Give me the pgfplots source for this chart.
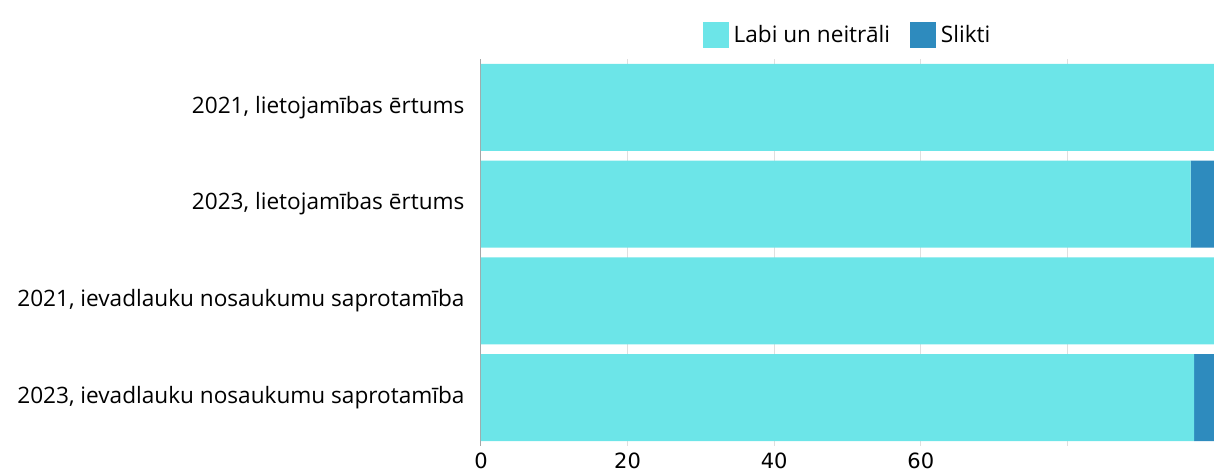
\documentclass[border=0pt]{standalone}
\usepackage{pgfplots}
\pgfplotsset{compat=1.18}
\usepackage{fontspec}
\setmainfont{Open Sans}
\newfontfamily\tickfont{DejaVu Sans}
\definecolor{light}{RGB}{108,229,232}
\definecolor{dark}{RGB}{46,139,190}
\begin{document}
\begin{tikzpicture}
\begin{axis}[
  name=ax,
  scale only axis,
  width=733pt, height=387pt,
  xbar stacked,
  bar width=0.9,
  xmin=0, xmax=100,
  ymin=-0.5, ymax=3.5,
  y dir=reverse,
  ytick={0,1,2,3},
  yticklabels={{2021, lietojamības ērtums},{2023, lietojamības ērtums},{2021, ievadlauku nosaukumu saprotamība},{2023, ievadlauku nosaukumu saprotamība}},
  yticklabel style={font=\fontsize{22.6}{26}\selectfont, xshift=-13pt},
  xtick={0,20,40,60,80,100},
  xticklabels={0,20,40,60,,},
  xticklabel style={font=\tickfont\fontsize{21}{24}\selectfont, yshift=-3pt},
  /pgf/number format/assume math mode=true,
  major tick length=0pt,
  xmajorgrids,
  grid style={gray!25, line width=1pt},
  separate axis lines,
  axis x line*=bottom,
  axis y line*=left,
  x axis line style={draw=none},
  y axis line style={draw=gray!70, line width=1pt},
  legend columns=2,
  legend style={at={(0.5,1)}, anchor=south, yshift=9pt, draw=none,
    font=\fontsize{22.6}{26}\selectfont,
    /tikz/every odd column/.append style={column sep=3pt},
    /tikz/every even column/.append style={column sep=18pt}},
  legend image code/.code={\fill[#1] (0pt,-13pt) rectangle (26pt,13pt);},
]
\addplot[fill=light, draw=none] coordinates {(100,0) (96.8,1) (100,2) (97.3,3)};
\addplot[fill=dark, draw=none] coordinates {(0,0) (3.2,1) (0,2) (2.7,3)};
\legend{Labi un neitrāli, Slikti}
\end{axis}
\pgfresetboundingbox
\path[use as bounding box] ([shift={(-481pt,-25pt)}]ax.south west) rectangle ([shift={(0pt,59pt)}]ax.north east);
\end{tikzpicture}
\end{document}
